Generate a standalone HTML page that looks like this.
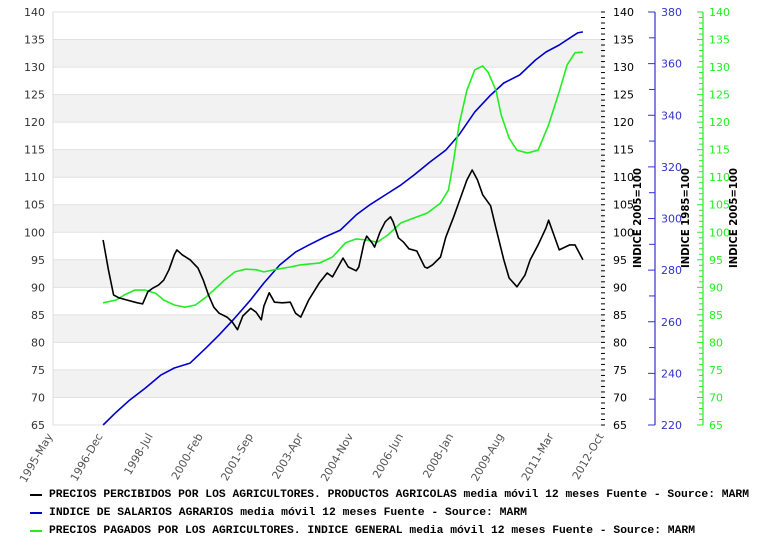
<!DOCTYPE html>
<html><head><meta charset="utf-8"><style>
body{margin:0;background:#fff;}
svg text{font-family:"DejaVu Sans","Liberation Sans",sans-serif;}
.leg{font-family:"Liberation Mono","DejaVu Sans Mono",monospace;font-weight:bold;font-size:10.6px;fill:#000;}
</style></head><body>
<svg id="chart" width="757" height="541" viewBox="0 0 757 541" xmlns="http://www.w3.org/2000/svg">
<g id="bands"></g><g id="axes"></g><g id="series"></g>
<g>
<line x1="30" y1="495" x2="42" y2="495" stroke="#000" stroke-width="2"/>
<text class="leg" x="49" y="497" textLength="700" lengthAdjust="spacingAndGlyphs">PRECIOS PERCIBIDOS POR LOS AGRICULTORES. PRODUCTOS AGRICOLAS media móvil 12 meses  Fuente - Source: MARM</text>
<line x1="30" y1="513" x2="42" y2="513" stroke="#0000cc" stroke-width="2"/>
<text class="leg" x="49" y="515" textLength="478" lengthAdjust="spacingAndGlyphs">INDICE DE SALARIOS AGRARIOS media móvil 12 meses  Fuente - Source: MARM</text>
<line x1="30" y1="531" x2="42" y2="531" stroke="#22ee22" stroke-width="2"/>
<text class="leg" x="49" y="533" textLength="646" lengthAdjust="spacingAndGlyphs">PRECIOS PAGADOS POR LOS AGRICULTORES. INDICE GENERAL media móvil 12 meses  Fuente - Source: MARM</text>
</g>
</svg>
<script>
// month offsets from 1995-May
const xTickLabels = ["1995-May","1996-Dec","1998-Jul","2000-Feb","2001-Sep","2003-Apr","2004-Nov","2006-Jun","2008-Jan","2009-Aug","2011-Mar","2012-Oct"];
const leftTicks = [65,70,75,80,85,90,95,100,105,110,115,120,125,130,135,140];
const blueTicks = [220,240,260,280,300,320,340,360,380];
const blackMonths = [19,21,23,25,28,32,34,36,38,40,42,44,46,47,49,52,55,57,59,61,63,66,68,70,72,75,77,79,80,82,84,87,90,92,94,97,101,104,106,110,112,115,116,118,119,121,122,124,126,128,129,131,133,135,138,141,142,144,147,149,152,154,157,159,161,163,166,168,171,173,176,179,181,184,187,188,190,192,196,198,201];
const blackValues = [98.6,93.2,88.6,88.1,87.7,87.2,87.0,89.2,89.9,90.4,91.3,93.2,95.9,96.8,95.9,95.0,93.5,91.3,88.6,86.4,85.3,84.6,83.7,82.3,84.8,86.2,85.5,84.1,86.6,89.0,87.3,87.2,87.3,85.3,84.6,87.7,90.8,92.6,91.9,95.3,93.7,93.0,93.7,98.1,99.3,98.1,97.3,100.0,101.9,102.8,101.9,99.0,98.2,97.0,96.6,93.7,93.5,94.1,95.5,99.1,102.8,105.5,109.5,111.3,109.5,106.8,104.8,100.8,95.0,91.7,90.1,92.2,95.0,97.7,100.8,102.2,99.5,96.8,97.7,97.7,95.0];
const blueMonths = [19,24,29,35,41,46,52,58,63,69,75,80,86,92,97,103,109,115,120,126,132,137,143,149,154,160,166,171,177,183,187,192,196,199,201];
const blueValues = [220.0,225.0,229.6,234.3,239.4,242.1,244.0,249.8,254.9,261.5,268.5,275.0,282.0,287.0,289.7,292.8,295.5,301.4,305.2,309.1,313.0,316.9,321.9,326.5,332.4,341.3,347.8,352.5,355.6,361.4,364.5,367.2,369.9,371.9,372.3];
const greenMonths = [19,24,27,31,35,39,42,46,50,54,58,61,65,69,73,77,80,84,90,94,101,106,111,115,119,123,127,132,137,142,147,150,152,154,157,160,163,165,168,170,173,176,180,184,188,192,195,198,201];
const greenValues = [87.2,87.7,88.6,89.5,89.5,88.9,87.7,86.8,86.4,86.8,88.2,89.5,91.3,92.8,93.3,93.2,92.8,93.2,93.7,94.1,94.4,95.5,98.1,98.8,98.6,98.2,99.5,101.7,102.6,103.5,105.3,107.7,113.1,119.5,125.8,129.5,130.2,129.1,125.8,121.3,117.1,114.9,114.4,114.9,119.5,125.5,130.4,132.6,132.7];

const NS="http://www.w3.org/2000/svg";
const L=53,R=604,T=12,B=425;
const xS=m=>L+m*(R-L)/209;
const yL=v=>B-(v-65)*(B-T)/75;
const yB=v=>B-(v-220)*(B-T)/160;
function mk(tag,attrs,parent,text){const e=document.createElementNS(NS,tag);for(const k in attrs)e.setAttribute(k,attrs[k]);if(text!==undefined)e.textContent=text;parent.appendChild(e);return e;}
const bands=document.getElementById('bands'),axes=document.getElementById('axes'),series=document.getElementById('series');
mk('rect',{x:L,y:T,width:R-L,height:B-T,fill:'#fff'},bands);
for(let v=70;v<140;v+=10){
  const r=mk('rect',{x:L,y:yL(v+5),width:R-L,height:yL(v)-yL(v+5),fill:'#f2f2f2'},bands);
  
  
}
for(const v of leftTicks){mk('line',{x1:L,x2:R,y1:yL(v),y2:yL(v),stroke:'#e0e0e0','stroke-width':1},bands);}
mk('line',{x1:L,x2:L,y1:T,y2:B,stroke:'#ddd'},axes);
leftTicks.forEach(v=>{
  const t=mk('text',{x:45,y:yL(v)+4,'text-anchor':'end','font-size':11,fill:'#333'},axes,String(v));
  
  
});
for(let v=65;v<=140;v+=1){mk('line',{x1:R-3,x2:R+1,y1:yL(v),y2:yL(v),stroke:'#000','stroke-width':1},axes);}
leftTicks.forEach(v=>{
  const t=mk('text',{x:613,y:yL(v)+4,'font-size':11,fill:'#000'},axes,String(v));
  
  
});
mk('line',{x1:655,x2:655,y1:T,y2:B,stroke:'#3333cc','stroke-width':1.2},axes);
for(let v=220;v<=380;v+=10){mk('line',{x1:(v%20?649:648),x2:655,y1:yB(v),y2:yB(v),stroke:'#3333cc'},axes);}
blueTicks.forEach(v=>{
  const t=mk('text',{x:661,y:yB(v)+4,'font-size':11,fill:'#3333cc'},axes,String(v));
  
  
});
mk('line',{x1:703,x2:703,y1:T,y2:B,stroke:'#22ee22','stroke-width':1.2},axes);
for(let v=65;v<=140;v+=1){mk('line',{x1:(v%5?699:697),x2:703,y1:yL(v),y2:yL(v),stroke:'#22ee22'},axes);}
leftTicks.forEach(v=>{
  const t=mk('text',{x:709,y:yL(v)+4,'font-size':11,fill:'#22ee22'},axes,String(v));
  
  
});
[[641,'black-axis-title','INDICE 2005=100'],[689,'blue-axis-title','INDICE 1985=100'],[737,'green-axis-title','INDICE 2005=100']].forEach(([x,n,s])=>{
  const t=mk('text',{x:x,y:218,transform:`rotate(-90 ${x} 218)`,'text-anchor':'middle','font-size':11,'font-weight':'bold',fill:'#000','font-family':'Liberation Mono,monospace',textLength:100,lengthAdjust:'spacingAndGlyphs'},axes,s);
  
  
});
xTickLabels.forEach((s,i)=>{
  const x=xS(i*19),y=436;
  const t=mk('text',{x:x,y:y,transform:`rotate(-60 ${x} ${y})`,'text-anchor':'end','font-size':11,fill:'#555'},axes,s);
  
  
});
function line(ms,vs,ys,color,name){
  const pts=ms.map((m,i)=>xS(m).toFixed(1)+','+ys(vs[i]).toFixed(1)).join(' ');
  const p=mk('polyline',{points:pts,fill:'none',stroke:color,'stroke-width':1.6,'stroke-linejoin':'round'},series);
  
  
}
line(blueMonths,blueValues,yB,'#0000cc','series-salarios-line');
line(greenMonths,greenValues,yL,'#22ee22','series-precios-pagados-line');
line(blackMonths,blackValues,yL,'#000','series-precios-percibidos-line');
</script>
</body></html>
